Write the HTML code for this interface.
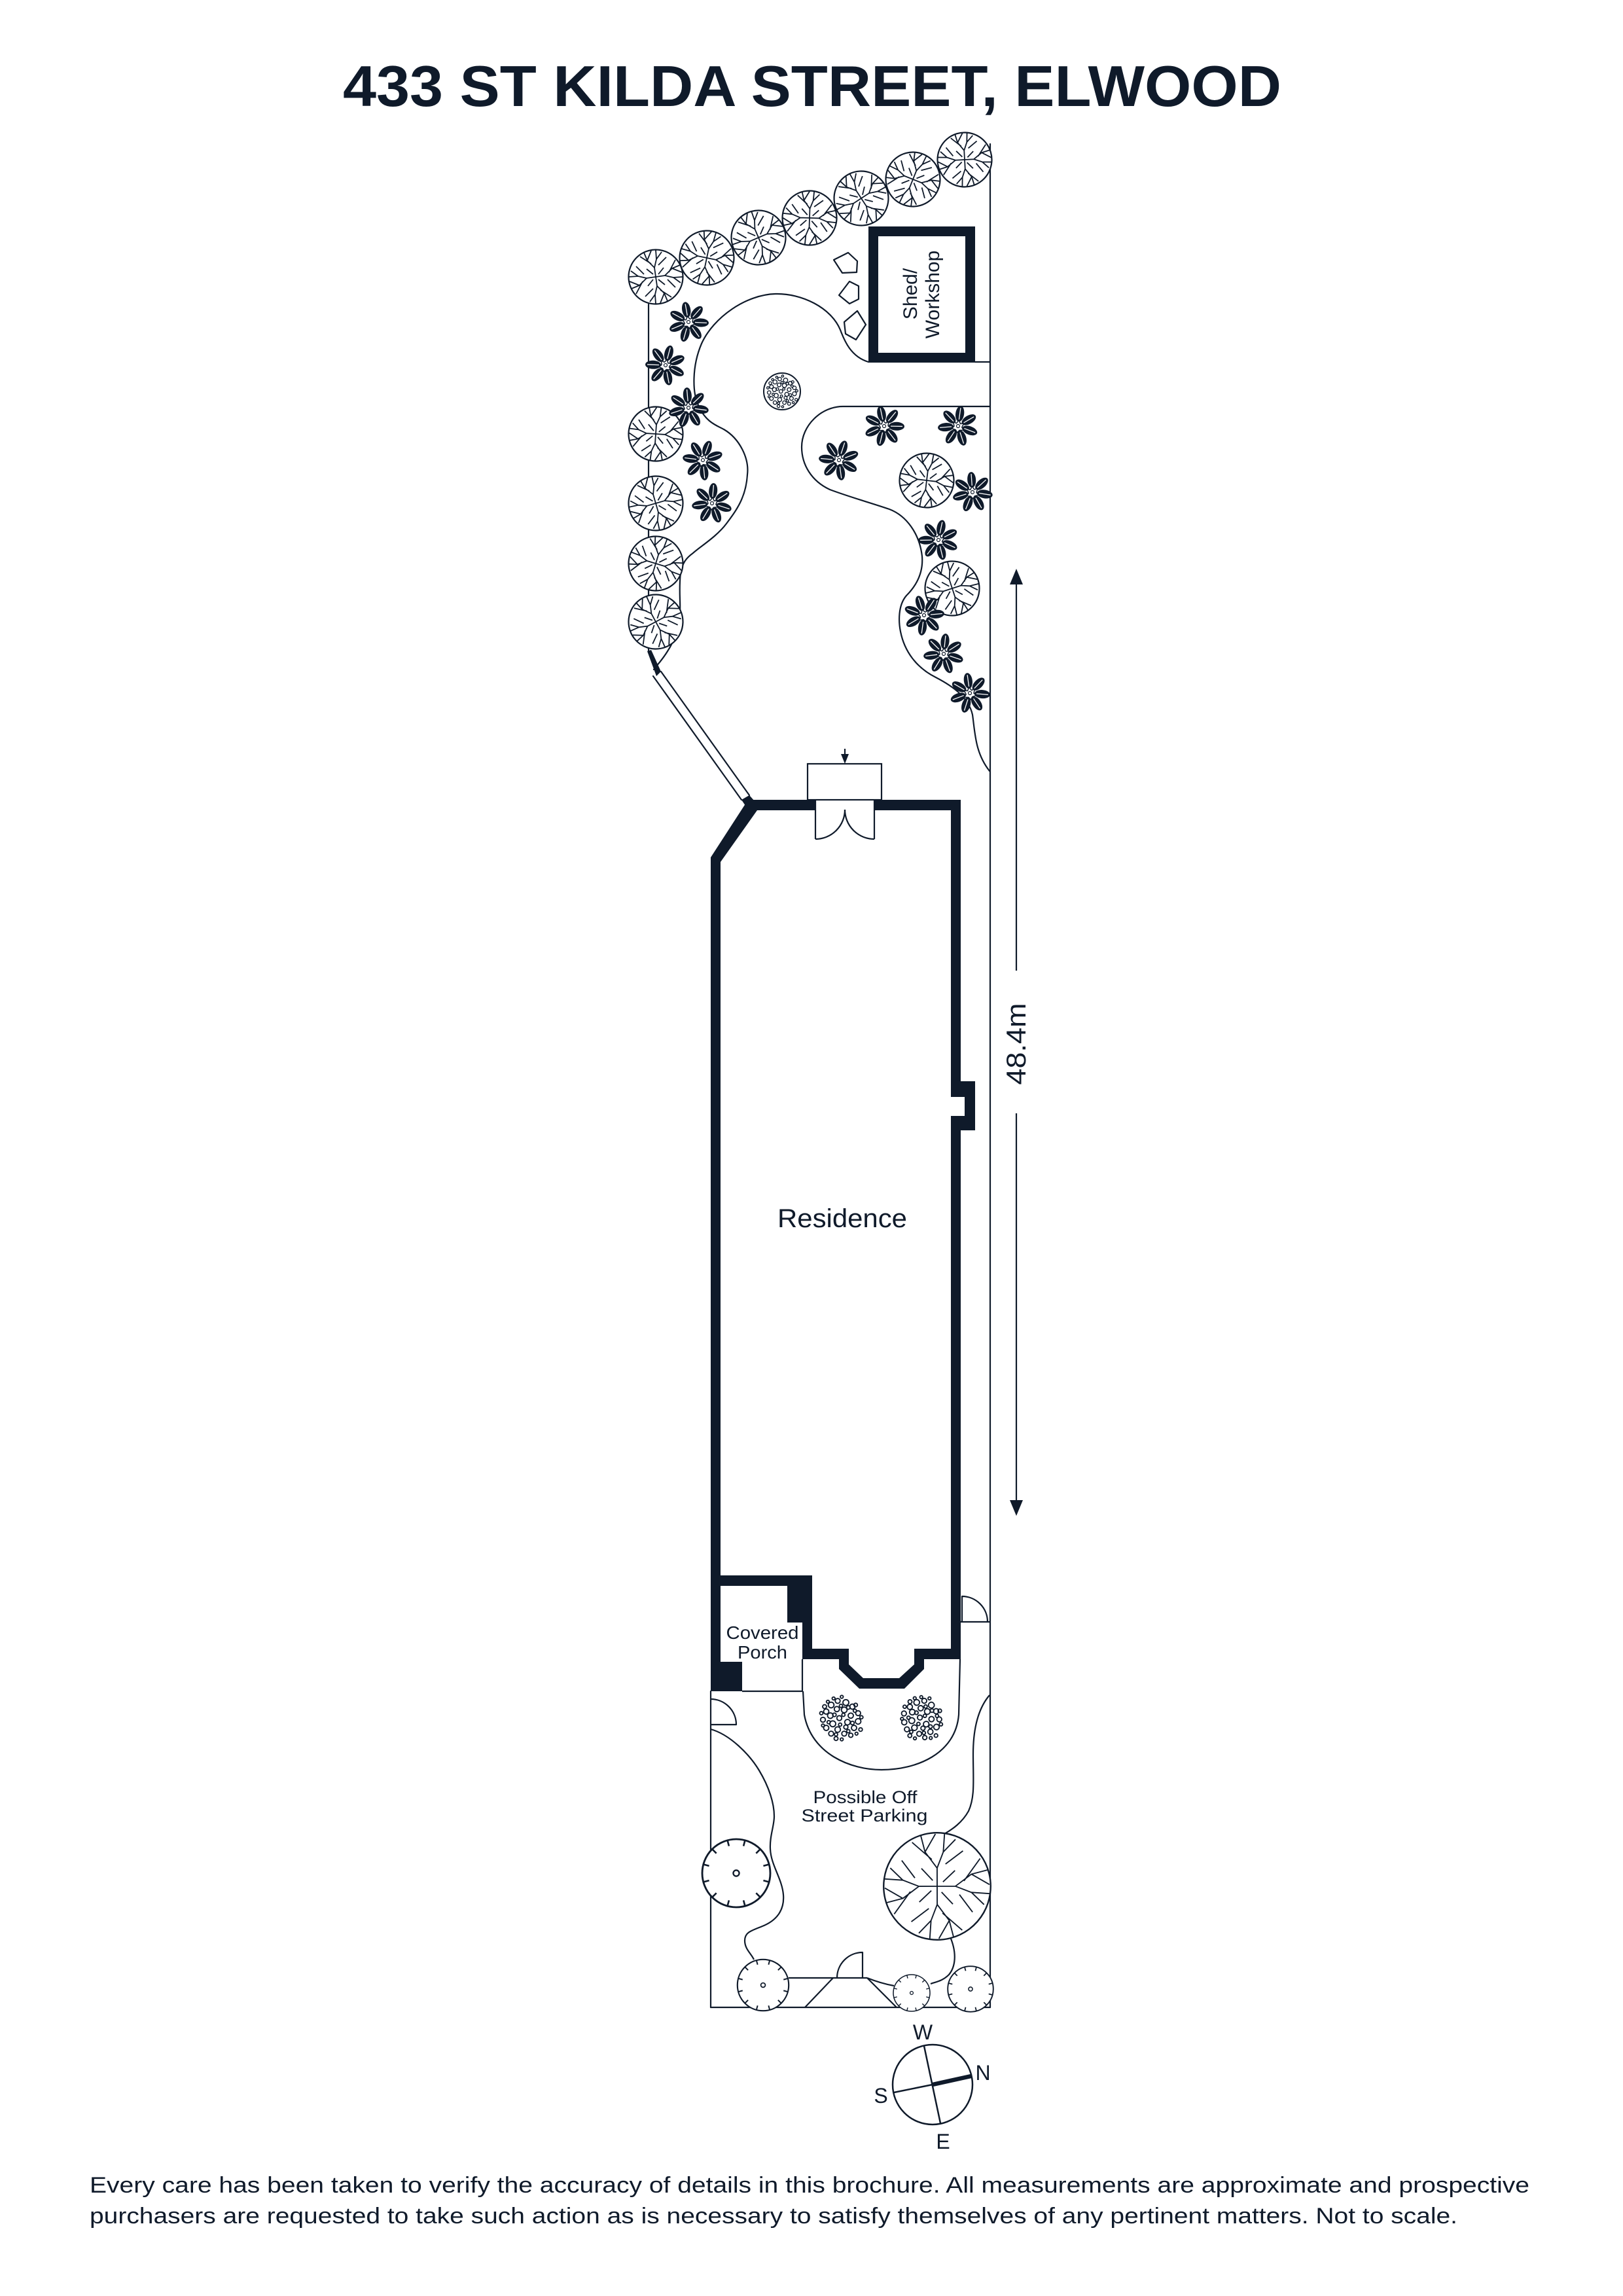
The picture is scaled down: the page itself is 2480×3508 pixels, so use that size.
<!DOCTYPE html>
<html>
<head>
<meta charset="utf-8">
<style>
  html,body{margin:0;padding:0;background:#fff;}
  svg{display:block;}
  text{font-family:"Liberation Sans", Arial, sans-serif; fill:#0f1a2a;}
</style>
</head>
<body>
<svg width="2480" height="3508" viewBox="0 0 2480 3508" xmlns="http://www.w3.org/2000/svg">
<defs>
  <g id="tree">
    <circle cx="0" cy="0" r="41.5" fill="#fff" stroke="#0f1a2a" stroke-width="2.2"/>
    <g fill="none" stroke="#0f1a2a" stroke-width="1.8" stroke-linejoin="round">
      <path d="M0,0 L-2,-14 L1,-27 L0,-41 M-2,-14 L-13,-25 L-18,-37 M1,-27 L9,-38 M-13,-25 L-7,-40 M-7,-20 L-24,-31 M4,-18 L16,-30"/>
      <path d="M0,0 L14,-2 L27,1 L41,0 M14,-2 L25,-13 L37,-18 M27,1 L38,9 M25,-13 L40,-7 M20,-7 L30,-26 M18,4 L30,16"/>
      <path d="M0,0 L2,14 L-1,27 L0,41 M2,14 L13,25 L18,37 M-1,27 L-9,38 M13,25 L7,40 M7,20 L24,31 M-4,18 L-16,30"/>
      <path d="M0,0 L-14,2 L-27,-1 L-41,0 M-14,2 L-25,13 L-37,18 M-27,-1 L-38,-9 M-25,13 L-40,7 M-20,7 L-30,26 M-18,-4 L-30,-16"/>
      <path d="M-4,-4 L-14,-12 M4,4 L14,12 M4,-4 L12,-14 M-4,4 L-12,14"/>
    </g>
  </g>
  <g id="bigtree">
    <circle cx="0" cy="0" r="41.5" fill="#fff" stroke="#0f1a2a" stroke-width="1.2"/>
    <g fill="none" stroke="#0f1a2a" stroke-width="0.95" stroke-linejoin="round">
      <path d="M0,0 L-2,-14 L1,-27 L0,-41 M-2,-14 L-13,-25 L-18,-37 M1,-27 L9,-38 M-13,-25 L-7,-40 M-7,-20 L-24,-31 M4,-18 L16,-30"/>
      <path d="M0,0 L14,-2 L27,1 L41,0 M14,-2 L25,-13 L37,-18 M27,1 L38,9 M25,-13 L40,-7 M20,-7 L30,-26 M18,4 L30,16"/>
      <path d="M0,0 L2,14 L-1,27 L0,41 M2,14 L13,25 L18,37 M-1,27 L-9,38 M13,25 L7,40 M7,20 L24,31 M-4,18 L-16,30"/>
      <path d="M0,0 L-14,2 L-27,-1 L-41,0 M-14,2 L-25,13 L-37,18 M-27,-1 L-38,-9 M-25,13 L-40,7 M-20,7 L-30,26 M-18,-4 L-30,-16"/>
      <path d="M-4,-4 L-14,-12 M4,4 L14,12 M4,-4 L12,-14 M-4,4 L-12,14"/>
    </g>
  </g>
  <g id="star">
    <g fill="#0f1a2a">
      <ellipse cx="0" cy="-19" rx="6.5" ry="12"/>
      <ellipse cx="0" cy="-19" rx="6.5" ry="12" transform="rotate(51.43)"/>
      <ellipse cx="0" cy="-19" rx="6.5" ry="12" transform="rotate(102.86)"/>
      <ellipse cx="0" cy="-19" rx="6.5" ry="12" transform="rotate(154.29)"/>
      <ellipse cx="0" cy="-19" rx="6.5" ry="12" transform="rotate(205.71)"/>
      <ellipse cx="0" cy="-19" rx="6.5" ry="12" transform="rotate(257.14)"/>
      <ellipse cx="0" cy="-19" rx="6.5" ry="12" transform="rotate(308.57)"/>
    </g>
    <g stroke="#fff" stroke-width="1.3">
      <line x1="0" y1="-10" x2="0" y2="-28"/>
      <line x1="0" y1="-10" x2="0" y2="-28" transform="rotate(51.43)"/>
      <line x1="0" y1="-10" x2="0" y2="-28" transform="rotate(102.86)"/>
      <line x1="0" y1="-10" x2="0" y2="-28" transform="rotate(154.29)"/>
      <line x1="0" y1="-10" x2="0" y2="-28" transform="rotate(205.71)"/>
      <line x1="0" y1="-10" x2="0" y2="-28" transform="rotate(257.14)"/>
      <line x1="0" y1="-10" x2="0" y2="-28" transform="rotate(308.57)"/>
    </g>
    <polygon points="0,-9 3,-4 8,-5 6,1 9,5 3,6 0,10 -3,6 -9,5 -6,1 -8,-5 -3,-4" fill="#fff" stroke="#0f1a2a" stroke-width="1.5"/>
    <circle cx="0" cy="0" r="2.5" fill="none" stroke="#0f1a2a" stroke-width="1.2"/>
  </g>
  <g id="tick">
    <circle cx="0" cy="0" r="40" fill="#fff" stroke="#0f1a2a" stroke-width="2.2"/>
    <circle cx="0" cy="0" r="3.5" fill="none" stroke="#0f1a2a" stroke-width="1.8"/>
    <g stroke="#0f1a2a" stroke-width="2">
      <line x1="0" y1="-40" x2="0" y2="-33" transform="rotate(15)"/>
      <line x1="0" y1="-40" x2="0" y2="-33" transform="rotate(45)"/>
      <line x1="0" y1="-40" x2="0" y2="-33" transform="rotate(75)"/>
      <line x1="0" y1="-40" x2="0" y2="-33" transform="rotate(105)"/>
      <line x1="0" y1="-40" x2="0" y2="-33" transform="rotate(135)"/>
      <line x1="0" y1="-40" x2="0" y2="-33" transform="rotate(165)"/>
      <line x1="0" y1="-40" x2="0" y2="-33" transform="rotate(195)"/>
      <line x1="0" y1="-40" x2="0" y2="-33" transform="rotate(225)"/>
      <line x1="0" y1="-40" x2="0" y2="-33" transform="rotate(255)"/>
      <line x1="0" y1="-40" x2="0" y2="-33" transform="rotate(285)"/>
      <line x1="0" y1="-40" x2="0" y2="-33" transform="rotate(315)"/>
      <line x1="0" y1="-40" x2="0" y2="-33" transform="rotate(345)"/>
    </g>
  </g>
  <g id="dots" fill="none" stroke="#0f1a2a" stroke-width="1.5">
    <circle cx="-18" cy="-8" r="3.2"/><circle cx="-12" cy="-16" r="3.5"/><circle cx="-4" cy="-21" r="3"/>
    <circle cx="6" cy="-19" r="3.6"/><circle cx="14" cy="-14" r="3.2"/><circle cx="21" cy="-6" r="3"/>
    <circle cx="-22" cy="2" r="3"/><circle cx="-13" cy="-3" r="3.4"/><circle cx="-5" cy="-11" r="3.2"/>
    <circle cx="4" cy="-10" r="3.5"/><circle cx="12" cy="-3" r="3.2"/><circle cx="21" cy="4" r="3.4"/>
    <circle cx="-18" cy="12" r="3.2"/><circle cx="-10" cy="7" r="3.6"/><circle cx="-2" cy="0" r="3"/>
    <circle cx="8" cy="5" r="3.4"/><circle cx="16" cy="12" r="3.2"/><circle cx="-12" cy="19" r="3"/>
    <circle cx="-4" cy="14" r="3.4"/><circle cx="4" cy="19" r="3"/><circle cx="12" cy="21" r="2.6"/>
    <circle cx="-6" cy="25" r="2.4"/><circle cx="6" cy="11" r="2.6"/><circle cx="-20" cy="-14" r="2.4"/>
    <circle cx="18" cy="-16" r="2.2"/><circle cx="24" cy="14" r="2.2"/>
    <circle cx="-8" cy="-4" r="2.2"/><circle cx="0" cy="-15" r="2"/><circle cx="9" cy="-13" r="2.2"/>
    <circle cx="17" cy="-9" r="2"/><circle cx="3" cy="-4" r="2"/><circle cx="-15" cy="5" r="2"/>
    <circle cx="14" cy="6" r="2.2"/><circle cx="-6" cy="20" r="2"/><circle cx="9" cy="16" r="2"/>
    <circle cx="-24" cy="-6" r="2"/><circle cx="25" cy="-1" r="2"/><circle cx="-16" cy="-20" r="1.8"/>
    <circle cx="1" cy="26" r="1.8"/><circle cx="19" cy="19" r="1.8"/><circle cx="-22" cy="9" r="1.8"/>
    <circle cx="-1" cy="8" r="2"/><circle cx="1" cy="-26" r="1.8"/><circle cx="-9" cy="-24" r="1.8"/>
  </g>
</defs>

<!-- Title -->
<text x="1241" y="162" font-size="88" font-weight="bold" text-anchor="middle" textLength="1434" lengthAdjust="spacingAndGlyphs">433 ST KILDA STREET, ELWOOD</text>

<g fill="none" stroke="#0f1a2a" stroke-width="2.2" stroke-linejoin="round" stroke-linecap="round">
  <!-- boundaries -->
  <line x1="1513" y1="220" x2="1513" y2="3067"/>
  <line x1="991" y1="465" x2="991" y2="997"/>
  <line x1="1086" y1="2584" x2="1086" y2="3067"/>
  <line x1="1086" y1="3067" x2="1513" y2="3067"/>
  <!-- shed line and bed lines -->
  <line x1="1490" y1="553" x2="1513" y2="553"/>
  <path d="M1327,553 C1300,545 1290,520 1284,504 C1270,470 1225,448 1185,449 C1140,450 1090,485 1072,525 C1057,560 1058,600 1067,619 C1078,645 1095,650 1106,656 C1130,670 1145,700 1142,725 C1140,760 1125,780 1110,800 C1095,820 1070,835 1059,845 C1048,853 1043,860 1040,875 C1037,900 1040,920 1039,935 C1037,960 1030,980 1020,995 C1012,1008 1005,1015 999,1023"/>
  <path d="M1513,621 L1288,621 C1255,621 1225,650 1225,683 C1225,710 1240,735 1268,748 C1300,760 1330,768 1359,778 C1385,788 1405,815 1409,850 C1411,875 1400,895 1385,910 C1372,925 1373,950 1376,965 C1382,995 1400,1020 1430,1035 C1455,1048 1480,1065 1486,1092 C1490,1120 1490,1150 1512,1178"/>
  <!-- stepping stones -->
  <polygon points="1274,397 1296,386 1310,399 1309,416 1287,417"/>
  <polygon points="1282,451 1298,430 1312,437 1312,457 1298,464"/>
  <polygon points="1290,492 1310,475 1323,496 1308,519 1292,510"/>
  <!-- gate diagonal -->
  <line x1="1010" y1="1026" x2="1145" y2="1215"/>
  <line x1="998" y1="1033" x2="1133" y2="1222"/>
</g>

<!-- shed -->
<rect x="1334.5" y="353.5" width="148" height="193" fill="none" stroke="#0f1a2a" stroke-width="15"/>
<text transform="translate(1401,449) rotate(-90)" font-size="30" text-anchor="middle">Shed/</text>
<text transform="translate(1435,450) rotate(-90)" font-size="30" text-anchor="middle">Workshop</text>

<!-- shrub in garden -->
<circle cx="1195" cy="598" r="28" fill="#fff" stroke="#0f1a2a" stroke-width="2"/>
<use href="#dots" transform="translate(1195,598) scale(0.9)"/>

<!-- trees top row -->
<use href="#tree" transform="translate(1002,423)"/>
<use href="#tree" transform="translate(1080,394) rotate(20)"/>
<use href="#tree" transform="translate(1159,363) rotate(-15)"/>
<use href="#tree" transform="translate(1237,333) rotate(10)"/>
<use href="#tree" transform="translate(1316,303) rotate(-25)"/>
<use href="#tree" transform="translate(1395,274) rotate(30)"/>
<use href="#tree" transform="translate(1474,244) rotate(5)"/>
<!-- left column trees -->
<use href="#tree" transform="translate(1002,663) rotate(12)"/>
<use href="#tree" transform="translate(1002,769) rotate(-8)"/>
<use href="#tree" transform="translate(1002,861) rotate(25)"/>
<use href="#tree" transform="translate(1002,950) rotate(-20)"/>
<!-- right trees -->
<use href="#tree" transform="translate(1416,734) rotate(15)"/>
<use href="#tree" transform="translate(1455,899) rotate(-10)"/>

<!-- stars -->
<use href="#star" transform="translate(1052,492) rotate(-10)"/>
<use href="#star" transform="translate(1017,558) rotate(15)"/>
<use href="#star" transform="translate(1052,623) rotate(-5)"/>
<use href="#star" transform="translate(1074,703) rotate(20)"/>
<use href="#star" transform="translate(1088,769) rotate(5)"/>
<use href="#star" transform="translate(1351,651) rotate(-12)"/>
<use href="#star" transform="translate(1464,651) rotate(8)"/>
<use href="#star" transform="translate(1282,703) rotate(18)"/>
<use href="#star" transform="translate(1486,752) rotate(-4)"/>
<use href="#star" transform="translate(1434,825) rotate(12)"/>
<use href="#star" transform="translate(1412,940) rotate(-18)"/>
<use href="#star" transform="translate(1442,999) rotate(6)"/>
<use href="#star" transform="translate(1482,1059) rotate(-8)"/>

<!-- gate ends -->
<polygon points="989,995 995,993 1010,1026 1003,1033" fill="#0f1a2a"/>
<polygon points="1133,1222 1145,1215 1153,1224 1141,1234" fill="#0f1a2a"/>

<!-- dimension -->
<g stroke="#0f1a2a" stroke-width="2.2">
  <line x1="1553" y1="890" x2="1553" y2="1483"/>
  <line x1="1553" y1="1701" x2="1553" y2="2295"/>
</g>
<polygon points="1553,869 1543,893 1563,893" fill="#0f1a2a"/>
<polygon points="1553,2316 1543,2292 1563,2292" fill="#0f1a2a"/>
<text transform="translate(1567,1595) rotate(-90)" font-size="42" text-anchor="middle" textLength="125" lengthAdjust="spacingAndGlyphs">48.4m</text>

<!-- top door -->
<g fill="none" stroke="#0f1a2a" stroke-width="2.2">
  <rect x="1234" y="1167" width="113" height="55" fill="#fff"/>
  <line x1="1291" y1="1144" x2="1291" y2="1155"/>
</g>
<polygon points="1291,1167 1285,1152 1297,1152" fill="#0f1a2a"/>

<!-- residence walls -->
<g fill="#0f1a2a">
  <polygon points="1086,1340 1086,1310 1143,1222 1246,1222 1246,1238 1157,1238 1101,1317 1101,1340"/>
  <rect x="1336" y="1222" width="132" height="16"/>
  <rect x="1086" y="1330" width="15" height="1254"/>
  <rect x="1453" y="1222" width="15" height="1313"/>
  <rect x="1468" y="1652" width="22" height="75"/>
  <rect x="1086" y="2407" width="155" height="16"/>
  <rect x="1203" y="2407" width="38" height="72"/>
  <rect x="1226" y="2479" width="15" height="56"/>
  <rect x="1086" y="2539" width="48" height="45"/>
  <polygon points="1226,2535 1282,2535 1282,2550 1313,2580 1382,2580 1412,2550 1412,2535 1468,2535 1468,2519 1397,2519 1397,2543 1374,2564 1319,2564 1297,2543 1297,2519 1226,2519"/>
</g>
<rect x="1453" y="1676" width="21" height="29" fill="#fff"/>

<!-- double door opening -->
<g fill="none" stroke="#0f1a2a" stroke-width="2.2">
  <line x1="1246" y1="1222" x2="1246" y2="1282"/>
  <line x1="1336" y1="1222" x2="1336" y2="1282"/>
  <path d="M1291,1237 A45,45 0 0 1 1246,1282"/>
  <path d="M1291,1237 A45,45 0 0 0 1336,1282"/>
</g>

<text x="1287" y="1875" font-size="40" text-anchor="middle" textLength="198" lengthAdjust="spacingAndGlyphs">Residence</text>

<!-- porch & front -->
<g fill="none" stroke="#0f1a2a" stroke-width="2.2" stroke-linejoin="round">
  <line x1="1134" y1="2584" x2="1226" y2="2584"/>
  <line x1="1226" y1="2535" x2="1226" y2="2584"/>
  <path d="M1227,2584 L1229,2620 C1240,2680 1300,2704 1347,2704 C1400,2704 1460,2680 1465,2620 L1467,2535"/>
  <line x1="1468" y1="2478" x2="1513" y2="2478"/>
  <path d="M1470,2478 L1470,2439 A39,39 0 0 1 1509,2478"/>
  <path d="M1086,2635 L1125,2635 A39,39 0 0 0 1086,2596"/>
  <path d="M1086,2642 C1115,2650 1145,2680 1160,2705 C1175,2730 1183,2755 1183,2775 C1183,2790 1176,2805 1177,2825 C1178,2850 1195,2870 1197,2895 C1199,2920 1185,2935 1165,2943 C1148,2950 1138,2952 1138,2965 C1138,2978 1148,2985 1152,2994"/>
  <path d="M1512,2590 C1495,2610 1487,2640 1487,2680 C1487,2720 1490,2745 1480,2767 C1470,2785 1455,2795 1443,2802"/>
  <path d="M1453,2962 C1462,2985 1460,3005 1450,3017 C1440,3027 1430,3028 1422,3031"/>
  <line x1="1205" y1="3022" x2="1325" y2="3022"/>
  <line x1="1273" y1="3022" x2="1230" y2="3067"/>
  <line x1="1325" y1="3022" x2="1370" y2="3067"/>
  <path d="M1318,3022 L1318,2983 A39,39 0 0 0 1279,3022"/>
  <path d="M1325,3022 C1340,3028 1355,3032 1366,3034"/>
</g>

<text x="1165" y="2504" font-size="28" text-anchor="middle" textLength="111" lengthAdjust="spacingAndGlyphs">Covered</text>
<text x="1165" y="2534" font-size="28" text-anchor="middle" textLength="76" lengthAdjust="spacingAndGlyphs">Porch</text>

<use href="#dots" transform="translate(1285,2625) scale(1.25)"/>
<use href="#dots" transform="translate(1408,2625) scale(1.25) rotate(20)"/>

<text x="1322" y="2755" font-size="27" text-anchor="middle" textLength="159" lengthAdjust="spacingAndGlyphs">Possible Off</text>
<text x="1321" y="2783" font-size="27" text-anchor="middle" textLength="193" lengthAdjust="spacingAndGlyphs">Street Parking</text>

<!-- parking shrubs/trees -->
<use href="#tick" transform="translate(1125,2862) scale(1.3)"/>
<use href="#tick" transform="translate(1166,3033) scale(0.98)"/>
<use href="#tick" transform="translate(1393,3045) scale(0.7)"/>
<use href="#tick" transform="translate(1483,3039) scale(0.87)"/>
<use href="#bigtree" transform="translate(1432,2882) scale(1.97) rotate(8)"/>

<!-- compass -->
<g fill="none" stroke="#0f1a2a" stroke-width="2.5">
  <circle cx="1425" cy="3185" r="61"/>
  <line x1="1412" y1="3126" x2="1437" y2="3244"/>
  <line x1="1366" y1="3197" x2="1425" y2="3185"/>
</g>
<line x1="1425" y1="3185" x2="1484" y2="3172" stroke="#0f1a2a" stroke-width="6.5"/>
<text x="1410" y="3116" font-size="32" text-anchor="middle">W</text>
<text x="1502" y="3178" font-size="32" text-anchor="middle">N</text>
<text x="1346" y="3213" font-size="32" text-anchor="middle">S</text>
<text x="1441" y="3283" font-size="32" text-anchor="middle">E</text>

<!-- footer -->
<text x="137" y="3350" font-size="34" textLength="2200" lengthAdjust="spacingAndGlyphs">Every care has been taken to verify the accuracy of details in this brochure. All measurements are approximate and prospective</text>
<text x="137" y="3397" font-size="34" textLength="2090" lengthAdjust="spacingAndGlyphs">purchasers are requested to take such action as is necessary to satisfy themselves of any pertinent matters. Not to scale.</text>
</svg>
</body>
</html>
